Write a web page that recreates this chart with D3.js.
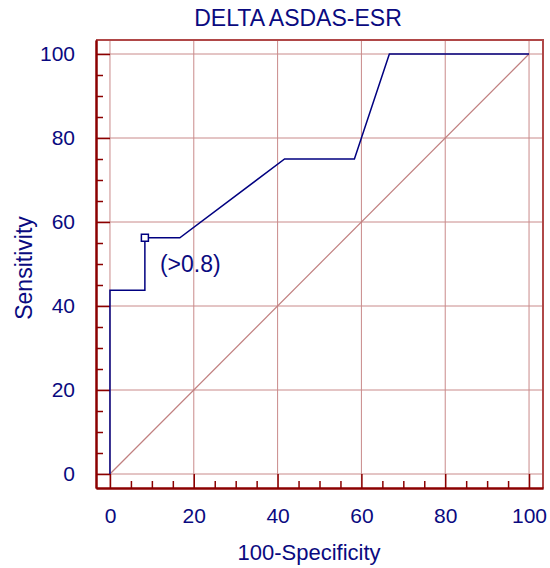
<!DOCTYPE html>
<html>
<head>
<meta charset="utf-8">
<script src="https://cdn.jsdelivr.net/npm/d3@7"></script>
<style>
  body { margin: 0; background: #fff; }
  text { font-family: "Liberation Sans", Arial, sans-serif; fill: #0a0a80; }
</style>
</head>
<body>
<div id="chart"></div>
<script>
// ROC curve points (100-Specificity, Sensitivity)
var fpr = [0, 0, 8.33, 8.33, 16.67, 41.67, 58.33, 66.67, 100];
var tpr = [0, 43.75, 43.75, 56.25, 56.25, 75, 75, 100, 100];
// criterion marker
var cutX = [8.33];
var cutY = [56.25];
var cutLabel = ["(>0.8)"];
var majorTicks = [0, 20, 40, 60, 80, 100];
var minorTicks = [5, 10, 15, 25, 30, 35, 45, 50, 55, 65, 70, 75, 85, 90, 95];

var width = 550, height = 568;
var svg = d3.select("#chart").append("svg")
    .attr("width", width)
    .attr("height", height);

// scales, frame runs a bit past 0 and 100
var x = d3.scaleLinear().domain([-10/3, 310/3]).range([96, 543]);
var y = d3.scaleLinear().domain([-10/3, 310/3]).range([488, 40]);

var gridColor = "#c98a8a";
var axisColor = "#8b0000";
var lineColor = "#000080";

// grid lines
svg.append("g").selectAll("line.v")
    .data(majorTicks)
    .enter().append("line")
    .attr("x1", function(d){ return x(d); })
    .attr("x2", function(d){ return x(d); })
    .attr("y1", y.range()[1])
    .attr("y2", y.range()[0])
    .attr("stroke", gridColor)
    .attr("stroke-width", 1);

svg.append("g").selectAll("line.h")
    .data(majorTicks)
    .enter().append("line")
    .attr("y1", function(d){ return y(d); })
    .attr("y2", function(d){ return y(d); })
    .attr("x1", x.range()[0])
    .attr("x2", x.range()[1])
    .attr("stroke", gridColor)
    .attr("stroke-width", 1);

// diagonal reference line
svg.append("line")
    .attr("x1", x(0)).attr("y1", y(0))
    .attr("x2", x(100)).attr("y2", y(100))
    .attr("stroke", "#c07f7f")
    .attr("stroke-width", 1.2);

// frame (top and right)
svg.append("path")
    .attr("d", "M" + x.range()[0] + "," + y.range()[1] + "H" + x.range()[1] + "V" + y.range()[0])
    .attr("fill", "none")
    .attr("stroke", "#b04848")
    .attr("stroke-width", 2);

// bottom axis
var xAxis = d3.axisBottom(x).tickValues(majorTicks).tickSize(-14).tickSizeOuter(0).tickPadding(20);
var xMinor = d3.axisBottom(x).tickValues(minorTicks).tickSize(-7).tickSizeOuter(0).tickFormat("");
var gx = svg.append("g").attr("transform", "translate(0," + y.range()[0] + ")").call(xAxis);
var gxm = svg.append("g").attr("transform", "translate(0," + y.range()[0] + ")").call(xMinor);

// left axis
var yAxis = d3.axisLeft(y).tickValues(majorTicks).tickSize(-14).tickSizeOuter(0).tickPadding(21);
var yMinor = d3.axisLeft(y).tickValues(minorTicks).tickSize(-7).tickSizeOuter(0).tickFormat("");
var gy = svg.append("g").attr("transform", "translate(" + x.range()[0] + ",0)").call(yAxis);
var gym = svg.append("g").attr("transform", "translate(" + x.range()[0] + ",0)").call(yMinor);

[gx, gxm, gy, gym].forEach(function(g){
    g.selectAll(".domain").attr("stroke", axisColor).attr("stroke-width", 2);
    g.selectAll(".tick line").attr("stroke", axisColor).attr("stroke-width", 1.5);
    g.selectAll("text")
        .attr("fill", "#0a0a80")
        .style("font-size", "21px")
        .style("font-family", "'Liberation Sans', Arial, sans-serif");
});

// ROC curve
var pts = fpr.map(function(d, i){ return [d, tpr[i]]; });
var line = d3.line()
    .x(function(d){ return x(d[0]); })
    .y(function(d){ return y(d[1]); });
svg.append("path")
    .datum(pts)
    .attr("d", line)
    .attr("fill", "none")
    .attr("stroke", lineColor)
    .attr("stroke-width", 1.5);

// criterion marker and label
svg.append("rect")
    .attr("x", x(cutX[0]) - 3.5)
    .attr("y", y(cutY[0]) - 3.5)
    .attr("width", 7)
    .attr("height", 7)
    .attr("fill", "#fff")
    .attr("stroke", lineColor)
    .attr("stroke-width", 1.5);
svg.append("text")
    .attr("x", x(cutX[0]) + 15)
    .attr("y", y(cutY[0]) + 34)
    .style("font-size", "23px")
    .text(cutLabel[0]);

// titles
svg.append("text")
    .attr("x", 298)
    .attr("y", 26)
    .attr("text-anchor", "middle")
    .style("font-size", "23px")
    .text("DELTA ASDAS-ESR");

svg.append("text")
    .attr("x", 309)
    .attr("y", 560)
    .attr("text-anchor", "middle")
    .style("font-size", "22px")
    .text("100-Specificity");

svg.append("text")
    .attr("transform", "translate(32,268) rotate(-90)")
    .attr("text-anchor", "middle")
    .style("font-size", "23px")
    .text("Sensitivity");
</script>
</body>
</html>
